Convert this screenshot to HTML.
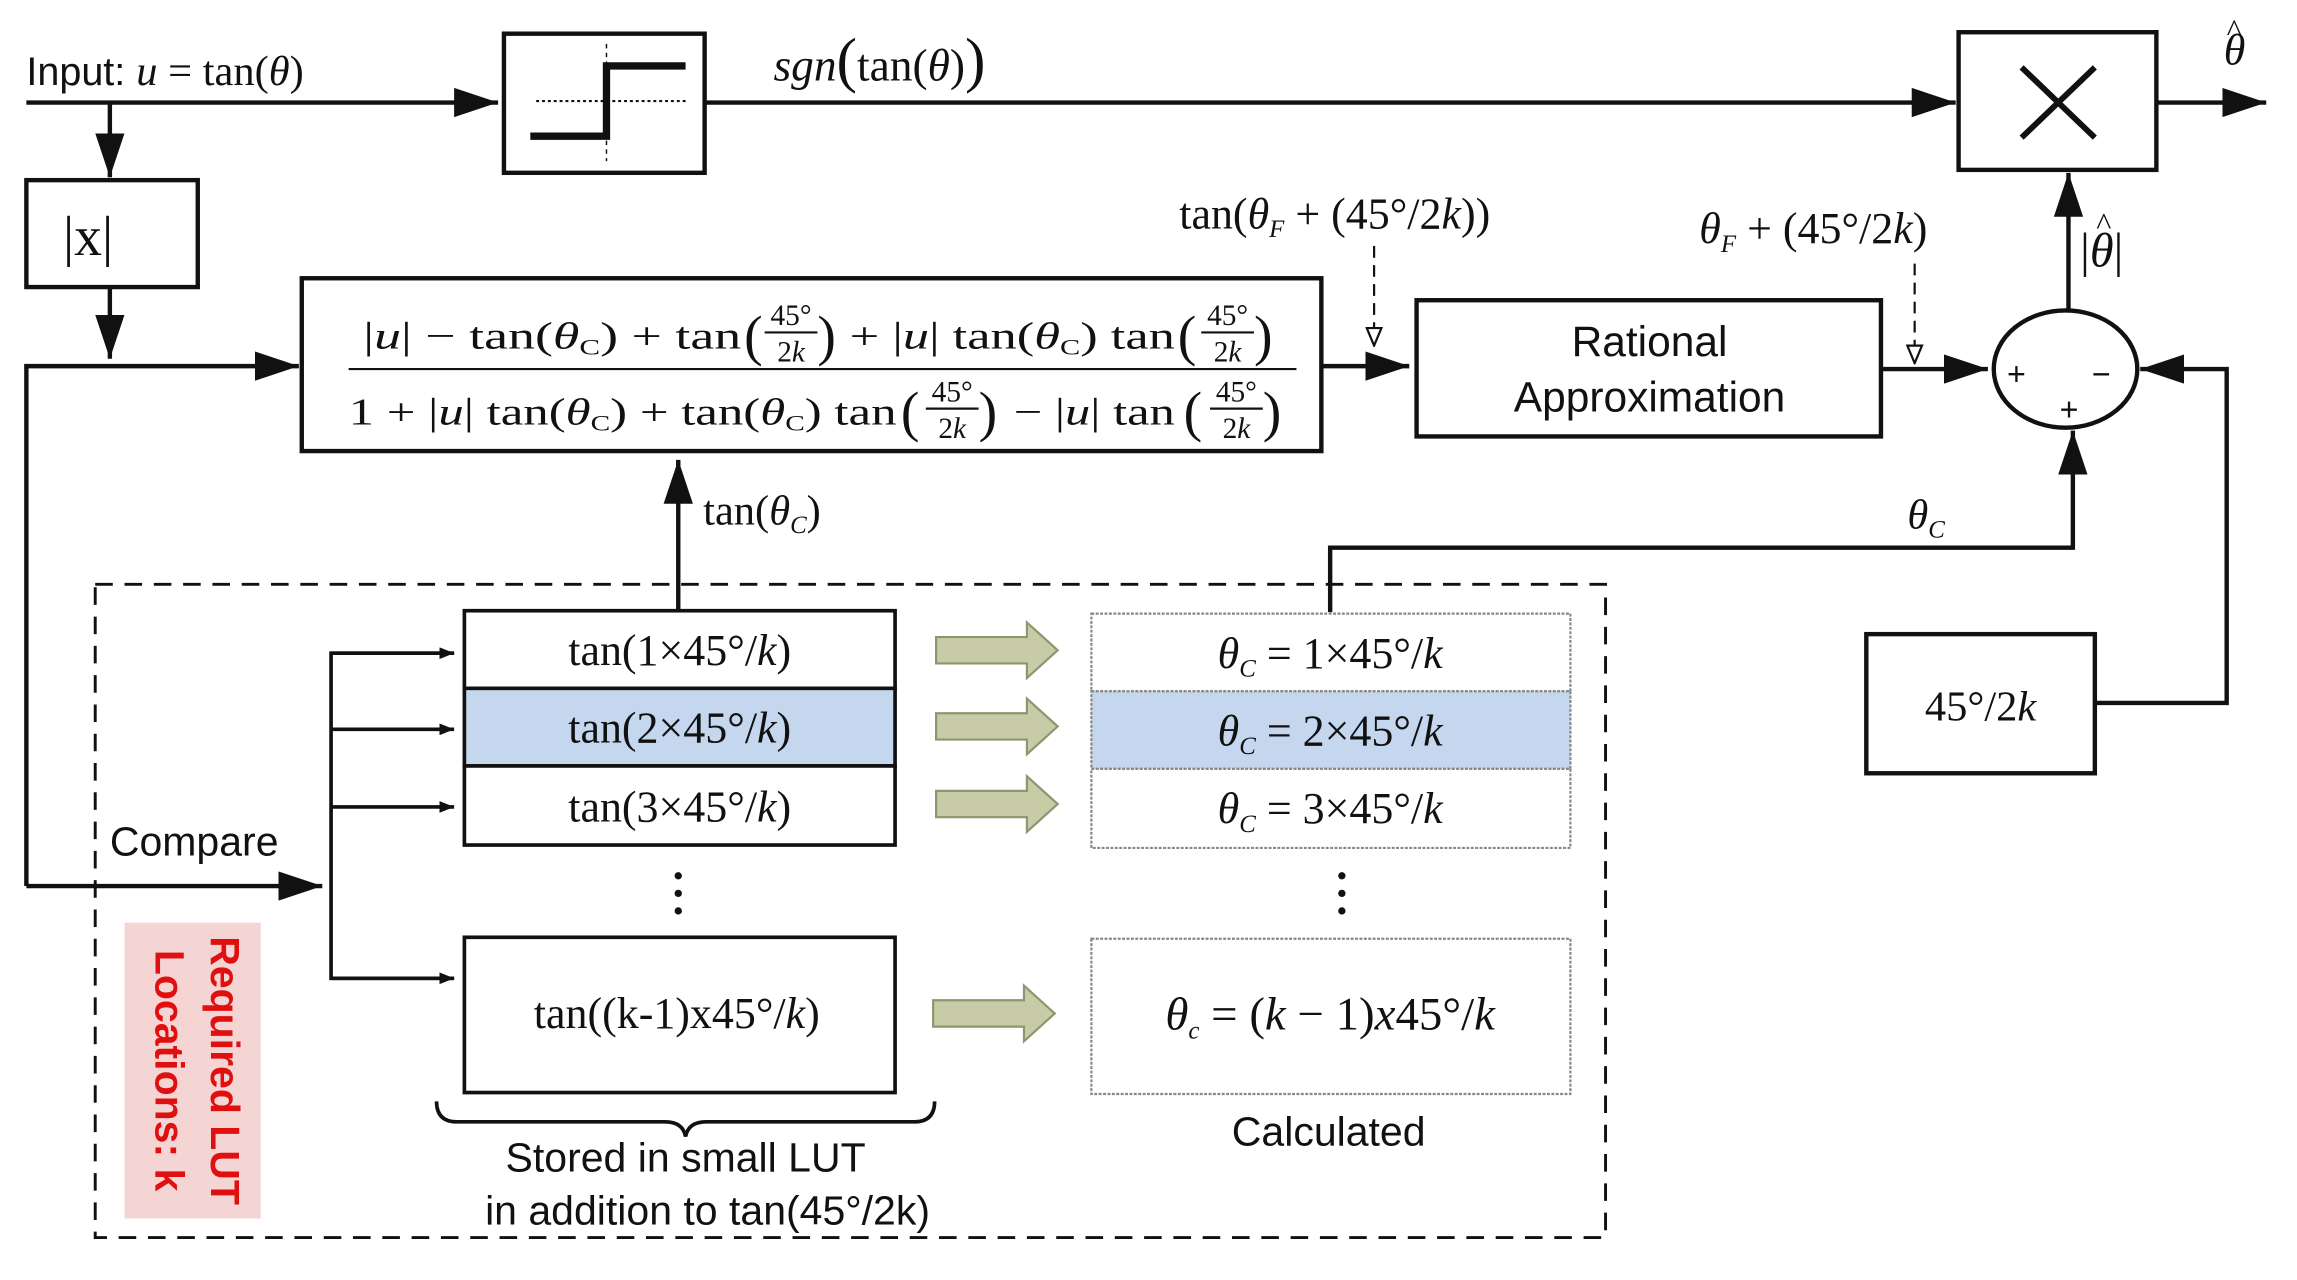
<!DOCTYPE html>
<html><head><meta charset="utf-8"><style>
html,body{margin:0;padding:0;background:#fff;}
svg{display:block;}
.s{font-family:"Liberation Serif",serif;fill:#111;}
.a{font-family:"Liberation Sans",sans-serif;fill:#111;}
</style></head><body>
<svg width="2297" height="1280" viewBox="0 0 1568 874" preserveAspectRatio="none" xmlns="http://www.w3.org/2000/svg">
<defs>
<marker id="ar" markerWidth="10" markerHeight="8" refX="10" refY="4" orient="auto" markerUnits="userSpaceOnUse" viewBox="0 0 10 8"><path d="M0,0 L10,4 L0,8z" fill="#111"/></marker>
<marker id="ab" markerWidth="30" markerHeight="20" refX="30" refY="10" orient="auto" markerUnits="userSpaceOnUse" viewBox="0 0 30 20"><path d="M0,0 L30,10 L0,20z" fill="#111"/></marker>
<marker id="ao" markerWidth="14" markerHeight="12" refX="13" refY="6" orient="auto" markerUnits="userSpaceOnUse" viewBox="0 0 14 12"><path d="M1,1 L13,6 L1,11z" fill="#fff" stroke="#111" stroke-width="1.5"/></marker>
</defs>
<g stroke="#111" stroke-width="3" fill="none">
<line x1="18" y1="70" x2="340" y2="70" marker-end="url(#ab)"/>
<rect x="344" y="23" width="137" height="95"/>
<line x1="481" y1="70" x2="1335" y2="70" marker-end="url(#ab)"/>
<rect x="1337" y="22" width="135" height="94"/>
<line x1="1472" y1="70" x2="1547" y2="70" marker-end="url(#ab)"/>
<line x1="1380" y1="46" x2="1430" y2="94" stroke-width="4"/>
<line x1="1430" y1="46" x2="1380" y2="94" stroke-width="4"/>
<line x1="75" y1="70" x2="75" y2="121" marker-end="url(#ab)"/>
<rect x="18" y="123" width="117" height="73"/>
<line x1="75" y1="196" x2="75" y2="245" marker-end="url(#ab)"/>
<polyline points="18,605 18,250 204,250" marker-end="url(#ab)"/>
<line x1="18" y1="605" x2="220" y2="605" marker-end="url(#ab)"/>
<rect x="206" y="190" width="696" height="118"/>
<line x1="902" y1="250" x2="962" y2="250" marker-end="url(#ab)"/>
<rect x="967" y="205" width="317" height="93"/>
<line x1="1284" y1="252" x2="1357" y2="252" marker-end="url(#ab)"/>
<ellipse cx="1410" cy="252" rx="49" ry="40"/>
<line x1="1412" y1="212" x2="1412" y2="118" marker-end="url(#ab)"/>
<polyline points="1430,480 1520,480 1520,252 1461,252" marker-end="url(#ab)"/>
<rect x="1274" y="433" width="156" height="95"/>
<polyline points="908,418 908,374 1415,374 1415,294" marker-end="url(#ab)"/>
<line x1="463" y1="416" x2="463" y2="314" marker-end="url(#ab)"/>
<polyline points="310,446 226,446 226,668 310,668" stroke-width="2.5"/>
<line x1="226" y1="446" x2="310" y2="446" stroke-width="2.5" marker-end="url(#ar)"/>
<line x1="226" y1="498" x2="310" y2="498" stroke-width="2.5" marker-end="url(#ar)"/>
<line x1="226" y1="551" x2="310" y2="551" stroke-width="2.5" marker-end="url(#ar)"/>
<line x1="226" y1="668" x2="310" y2="668" stroke-width="2.5" marker-end="url(#ar)"/>
</g>
<g stroke="#111" fill="none">
<polyline points="362,93 414,93 414,45 468,45" stroke-width="5"/>
<line x1="366" y1="69" x2="468" y2="69" stroke-width="1.5" stroke-dasharray="2,2"/>
<line x1="414" y1="30" x2="414" y2="110" stroke-width="1" stroke-dasharray="3,3"/>
</g>
<g stroke="#111" stroke-width="1.5" fill="none" stroke-dasharray="8,5">
<line x1="938" y1="168" x2="938" y2="236" marker-end="url(#ao)"/>
<line x1="1307" y1="180" x2="1307" y2="248" marker-end="url(#ao)"/>
<rect x="65" y="399" width="1031" height="446" stroke-width="2" stroke-dasharray="12,8"/>
</g>
<g stroke="#111" stroke-width="2.5">
<rect x="317" y="417" width="294" height="53" fill="#fff"/>
<rect x="317" y="470" width="294" height="53" fill="#c5d7ee"/>
<rect x="317" y="523" width="294" height="54" fill="#fff"/>
<rect x="317" y="640" width="294" height="106" fill="#fff"/>
</g>
<g stroke="#888" stroke-width="1.5" stroke-dasharray="2,1">
<rect x="745" y="419" width="327" height="53" fill="#fff"/>
<rect x="745" y="472" width="327" height="53" fill="#c5d7ee"/>
<rect x="745" y="525" width="327" height="54" fill="#fff"/>
<rect x="745" y="641" width="327" height="106" fill="#fff"/>
</g>
<g fill="#c8cca6" stroke="#8c9670" stroke-width="1.5">
<path d="M639,435 h62 v-10 l21,19 l-21,19 v-10 h-62z"/>
<path d="M639,487 h62 v-10 l21,19 l-21,19 v-10 h-62z"/>
<path d="M639,540 h62 v-10 l21,19 l-21,19 v-10 h-62z"/>
<path d="M637,683 h62 v-10 l21,19 l-21,19 v-10 h-62z"/>
</g>
<g fill="#111">
<circle cx="463" cy="598" r="2.5"/><circle cx="463" cy="610" r="2.5"/><circle cx="463" cy="622" r="2.5"/>
<circle cx="916" cy="598" r="2.5"/><circle cx="916" cy="610" r="2.5"/><circle cx="916" cy="622" r="2.5"/>
</g>
<path d="M298,752 q0,14 14,14 h142 q12,0 14,10 q2,-10 14,-10 h142 q14,0 14,-14" stroke="#111" stroke-width="2.5" fill="none"/>
<rect x="85" y="630" width="93" height="202" fill="#f5d4d4"/>
<text x="18" y="58" class="a" font-size="27">Input: <tspan class="s" font-style="italic" font-size="29">u</tspan><tspan class="s" font-size="29"> = tan(</tspan><tspan class="s" font-style="italic" font-size="29">θ</tspan><tspan class="s" font-size="29">)</tspan></text>
<text x="528" y="55" class="s" font-size="31"><tspan font-style="italic">sgn</tspan><tspan font-size="42">(</tspan>tan(<tspan font-style="italic">θ</tspan>)<tspan font-size="42">)</tspan></text>
<text x="1518" y="44" class="s" font-size="30" font-style="italic">θ</text>
<text x="1520" y="28" class="s" font-size="22">^</text>
<text x="43" y="174" class="s" font-size="38">|x|</text>
<text x="805" y="156" class="s" font-size="30">tan(<tspan font-style="italic">θ</tspan><tspan font-size="17" font-style="italic" dy="6">F</tspan><tspan dy="-6"> + (45°/2</tspan><tspan font-style="italic">k</tspan>))</text>
<text x="1160" y="166" class="s" font-size="30"><tspan font-style="italic">θ</tspan><tspan font-size="17" font-style="italic" dy="6">F</tspan><tspan dy="-6"> + (45°/2</tspan><tspan font-style="italic">k</tspan>)</text>
<text x="1420" y="182" class="s" font-size="33">|<tspan font-style="italic">θ</tspan>|</text>
<text x="1431" y="160" class="s" font-size="22">^</text>
<text x="1126" y="243" class="a" font-size="29" text-anchor="middle">Rational</text>
<text x="1126" y="281" class="a" font-size="29" text-anchor="middle">Approximation</text>
<text x="1370" y="263" class="a" font-size="22">+</text>
<text x="1428" y="263" class="a" font-size="22">−</text>
<text x="1406" y="287" class="a" font-size="22">+</text>
<text x="1302" y="361" class="s" font-size="29" font-style="italic">θ<tspan font-size="17" dy="6">C</tspan></text>
<text x="1352" y="492" class="s" font-size="29" text-anchor="middle">45°/2<tspan font-style="italic">k</tspan></text>
<text x="480" y="358" class="s" font-size="29">tan(<tspan font-style="italic">θ</tspan><tspan font-size="17" font-style="italic" dy="6">C</tspan><tspan dy="-6">)</tspan></text>
<line x1="238" y1="252" x2="885" y2="252" stroke="#111" stroke-width="1.5"/>
<g class="s" font-size="26">
<text x="248" y="238" textLength="258" lengthAdjust="spacingAndGlyphs">|<tspan font-style="italic">u</tspan>| − tan(<tspan font-style="italic">θ</tspan><tspan font-size="15" dy="4">C</tspan><tspan dy="-4">) + tan</tspan></text>
<text x="508" y="242" font-size="38">(</text><text x="540" y="222" font-size="20" text-anchor="middle">45°</text><line x1="522" y1="227" x2="558" y2="227" stroke="#111" stroke-width="1.5"/><text x="540" y="247" font-size="20" text-anchor="middle">2<tspan font-style="italic">k</tspan></text><text x="558" y="242" font-size="38">)</text>
<text x="580" y="238" textLength="222" lengthAdjust="spacingAndGlyphs">+ |<tspan font-style="italic">u</tspan>| tan(<tspan font-style="italic">θ</tspan><tspan font-size="15" dy="4">C</tspan><tspan dy="-4">) tan</tspan></text>
<text x="804" y="242" font-size="38">(</text><text x="838" y="222" font-size="20" text-anchor="middle">45°</text><line x1="820" y1="227" x2="856" y2="227" stroke="#111" stroke-width="1.5"/><text x="838" y="247" font-size="20" text-anchor="middle">2<tspan font-style="italic">k</tspan></text><text x="856" y="242" font-size="38">)</text>
<text x="238" y="290" textLength="374" lengthAdjust="spacingAndGlyphs">1 + |<tspan font-style="italic">u</tspan>| tan(<tspan font-style="italic">θ</tspan><tspan font-size="15" dy="4">C</tspan><tspan dy="-4">) + tan(</tspan><tspan font-style="italic">θ</tspan><tspan font-size="15" dy="4">C</tspan><tspan dy="-4">) tan</tspan></text>
<text x="615" y="294" font-size="38">(</text><text x="650" y="274" font-size="20" text-anchor="middle">45°</text><line x1="632" y1="279" x2="668" y2="279" stroke="#111" stroke-width="1.5"/><text x="650" y="299" font-size="20" text-anchor="middle">2<tspan font-style="italic">k</tspan></text><text x="668" y="294" font-size="38">)</text>
<text x="692" y="290" textLength="110" lengthAdjust="spacingAndGlyphs">− |<tspan font-style="italic">u</tspan>| tan</text>
<text x="808" y="294" font-size="38">(</text><text x="844" y="274" font-size="20" text-anchor="middle">45°</text><line x1="826" y1="279" x2="862" y2="279" stroke="#111" stroke-width="1.5"/><text x="844" y="299" font-size="20" text-anchor="middle">2<tspan font-style="italic">k</tspan></text><text x="862" y="294" font-size="38">)</text>
</g>
<g class="s" font-size="30" text-anchor="middle">
<text x="464" y="454">tan(1×45°/<tspan font-style="italic">k</tspan>)</text>
<text x="464" y="507">tan(2×45°/<tspan font-style="italic">k</tspan>)</text>
<text x="464" y="561">tan(3×45°/<tspan font-style="italic">k</tspan>)</text>
<text x="462" y="702">tan((k-1)x45°/<tspan font-style="italic">k</tspan>)</text>
<text x="908" y="456"><tspan font-style="italic">θ</tspan><tspan font-size="17" font-style="italic" dy="6">C</tspan><tspan dy="-6"> = 1×45°/</tspan><tspan font-style="italic">k</tspan></text>
<text x="908" y="509"><tspan font-style="italic">θ</tspan><tspan font-size="17" font-style="italic" dy="6">C</tspan><tspan dy="-6"> = 2×45°/</tspan><tspan font-style="italic">k</tspan></text>
<text x="908" y="562"><tspan font-style="italic">θ</tspan><tspan font-size="17" font-style="italic" dy="6">C</tspan><tspan dy="-6"> = 3×45°/</tspan><tspan font-style="italic">k</tspan></text>
<text x="908" y="703" font-size="32"><tspan font-style="italic">θ</tspan><tspan font-size="17" font-style="italic" dy="6">c</tspan><tspan dy="-6"> = (</tspan><tspan font-style="italic">k</tspan> − 1)<tspan font-style="italic">x</tspan>45°/<tspan font-style="italic">k</tspan></text>
</g>
<text x="75" y="584" class="a" font-size="28">Compare</text>
<text x="468" y="800" class="a" font-size="28" text-anchor="middle">Stored in small LUT</text>
<text x="483" y="836" class="a" font-size="28" text-anchor="middle">in addition to tan(45°/2k)</text>
<text x="907" y="782" class="a" font-size="28" text-anchor="middle">Calculated</text>
<g transform="translate(134,731) rotate(90)">
<text x="0" y="-10" class="a" font-size="28" font-weight="bold" style="fill:#e01010" text-anchor="middle">Required LUT</text>
<text x="0" y="28" class="a" font-size="28" font-weight="bold" style="fill:#e01010" text-anchor="middle">Locations: k</text>
</g>
</svg>
</body></html>
